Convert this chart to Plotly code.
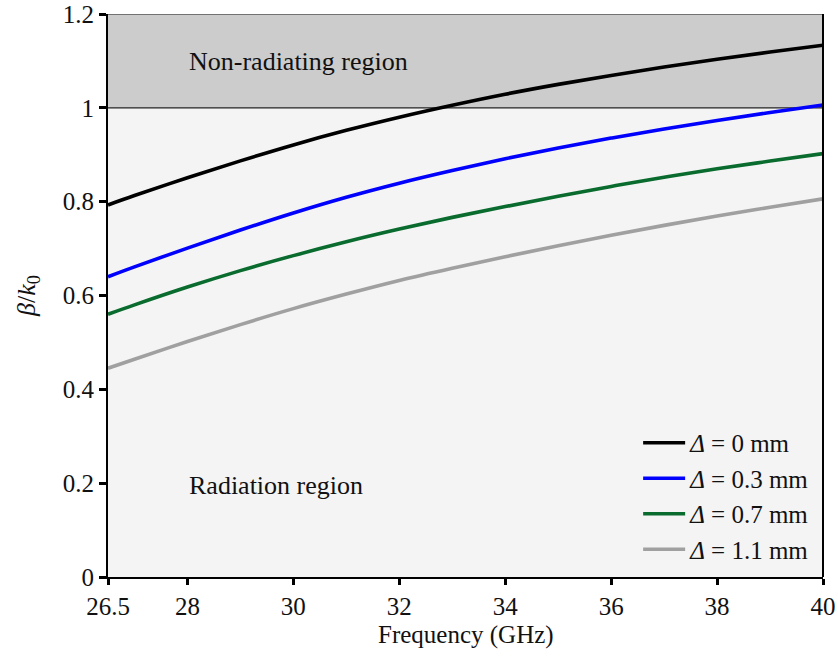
import plotly.graph_objects as go

freq = [26.5, 27, 28, 29, 30, 31, 32, 33, 34, 35, 36, 37, 38, 39, 40]
d0 = [0.793, 0.813, 0.851, 0.887, 0.921, 0.952, 0.980, 1.0055, 1.029, 1.050, 1.069, 1.087, 1.1035, 1.119, 1.1335]
d03 = [0.640, 0.661, 0.701, 0.7395, 0.776, 0.8095, 0.8395, 0.8665, 0.8915, 0.9145, 0.9355, 0.955, 0.973, 0.990, 1.006]
d07 = [0.560, 0.580, 0.618, 0.653, 0.685, 0.7145, 0.7415, 0.7665, 0.7895, 0.8115, 0.8325, 0.852, 0.870, 0.8865, 0.9025]
d11 = [0.445, 0.464, 0.502, 0.538, 0.572, 0.603, 0.632, 0.658, 0.6825, 0.706, 0.7285, 0.7495, 0.7695, 0.788, 0.806]

series = [
    ("<i>Δ</i> = 0 mm", d0, "#000000"),
    ("<i>Δ</i> = 0.3 mm", d03, "#0000ff"),
    ("<i>Δ</i> = 0.7 mm", d07, "#0a6b2e"),
    ("<i>Δ</i> = 1.1 mm", d11, "#a0a0a0"),
]

x_ticks = [26.5, 28, 30, 32, 34, 36, 38, 40]
x_ticklabels = ["26.5", "28", "30", "32", "34", "36", "38", "40"]
y_ticks = [0, 0.2, 0.4, 0.6, 0.8, 1, 1.2]
y_ticklabels = ["0", "0.2", "0.4", "0.6", "0.8", "1", "1.2"]

FONT = "Liberation Serif"

fig = go.Figure()
for name, vals, col in series:
    fig.add_trace(go.Scatter(x=freq, y=vals, mode="lines", name=name,
                             line=dict(color=col, width=3.6, shape="spline", smoothing=1)))

# non-radiating region shading
fig.add_shape(type="rect", xref="x", yref="y", x0=26.5, x1=40, y0=1, y1=1.2,
              fillcolor="#cccccc", line=dict(width=0), layer="below")
fig.add_shape(type="line", xref="x", yref="y", x0=26.5, x1=40, y0=1, y1=1,
              line=dict(color="#222222", width=1.2), layer="below")
fig.add_shape(type="line", xref="x", yref="y", x0=26.5, x1=40, y0=1.2, y1=1.2,
              line=dict(color="#555555", width=1.5))

fig.add_annotation(x=28, y=1.098, xref="x", yref="y", text="Non-radiating region",
                   showarrow=False, xanchor="left", yanchor="middle",
                   font=dict(family=FONT, size=26, color="#111111"))
fig.add_annotation(x=28, y=0.194, xref="x", yref="y", text="Radiation region",
                   showarrow=False, xanchor="left", yanchor="middle",
                   font=dict(family=FONT, size=26, color="#111111"))
# x-axis title
fig.add_annotation(x=0.5, y=-0.103, xref="paper", yref="paper", text="Frequency (GHz)",
                   showarrow=False, xanchor="center", yanchor="middle",
                   font=dict(family=FONT, size=25, color="#111111"))

fig.update_layout(
    width=838, height=661,
    margin=dict(l=108, r=15, t=14, b=84),
    paper_bgcolor="white",
    plot_bgcolor="#f4f4f4",
    font=dict(family=FONT, size=25, color="#111111"),
    showlegend=True,
    legend=dict(x=0.989, y=0.009, xanchor="right", yanchor="bottom",
                bgcolor="rgba(0,0,0,0)", font=dict(family=FONT, size=25),
                itemwidth=42, tracegroupgap=0),
)
fig.update_xaxes(range=[26.5, 40], tickvals=x_ticks, ticktext=x_ticklabels,
                 showgrid=False, zeroline=False, showline=True, linecolor="black",
                 linewidth=2, ticks="outside", ticklen=6, tickwidth=2.5,
                 tickcolor="black", tickfont=dict(family=FONT, size=25),
                 automargin=False, ticklabeloverflow="allow")
fig.update_yaxes(range=[0, 1.2], tickvals=y_ticks, ticktext=y_ticklabels,
                 showgrid=False, zeroline=False, showline=True, linecolor="black",
                 linewidth=2, ticks="outside", ticklen=7, tickwidth=2.5,
                 tickcolor="black", tickfont=dict(family=FONT, size=25),
                 automargin=False, ticklabeloverflow="allow",
                 title=dict(text="<i>β</i>/<i>k</i><sub>0</sub>", font=dict(family=FONT, size=26), standoff=20))
# right border
fig.add_shape(type="line", xref="paper", yref="paper", x0=1, x1=1, y0=0, y1=1,
              line=dict(color="black", width=2))

fig.write_html("out.html", config={"displayModeBar": False},
               post_script="document.body.style.margin='0';document.body.style.overflow='hidden';")
